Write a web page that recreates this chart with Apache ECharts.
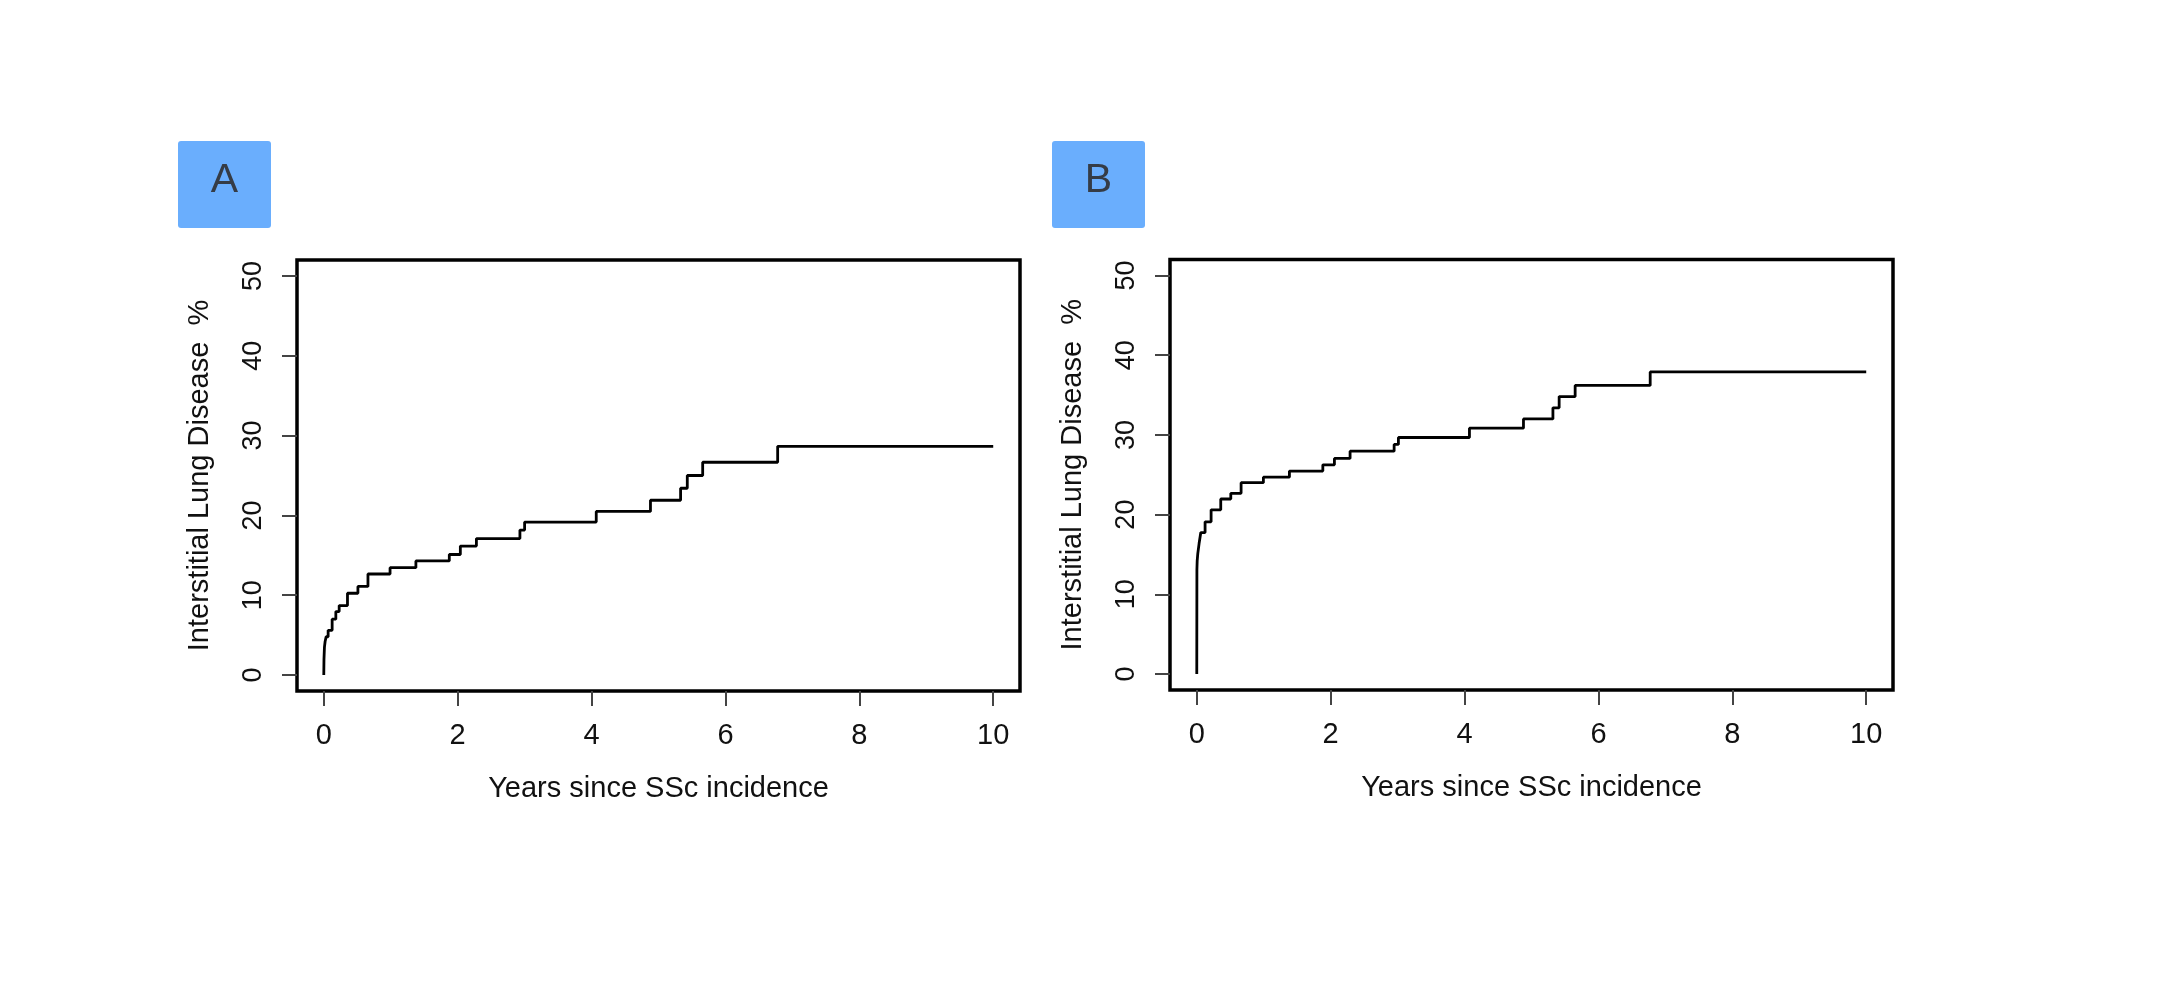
<!DOCTYPE html>
<html>
<head>
<meta charset="utf-8">
<script src="https://cdn.jsdelivr.net/npm/echarts@6/dist/echarts.min.js"></script>
<style>
html,body{margin:0;padding:0;background:#fff;}
#main{width:2160px;height:1000px;}
</style>
</head>
<body>
<div id="main"></div>
<script>
// ---- data ----
const panelLabels = ['A', 'B'];
const xTickValues = [0, 2, 4, 6, 8, 10];
const yTickValues = [0, 10, 20, 30, 40, 50];
const xTitle = 'Years since SSc incidence';
const yTitle = 'Interstitial Lung Disease  %';

const timesA = [0, 0.003, 0.01, 0.02, 0.035, 0.065, 0.125, 0.18, 0.23, 0.354, 0.51, 0.66, 0.99, 1.376, 1.875, 2.04, 2.28, 2.93, 3.0, 4.07, 4.88, 5.33, 5.43, 5.66, 6.78, 10.0];
const valuesA = [0, 2.0, 3.5, 4.2, 4.8, 5.6, 7.0, 7.95, 8.7, 10.25, 11.1, 12.66, 13.45, 14.3, 15.1, 16.16, 17.1, 18.16, 19.16, 20.5, 21.9, 23.4, 25.0, 26.66, 28.66, 28.66];

const timesB = [0, 0.002, 0.006, 0.015, 0.035, 0.06, 0.124, 0.214, 0.358, 0.508, 0.662, 0.995, 1.384, 1.883, 2.056, 2.29, 2.948, 3.012, 4.073, 4.88, 5.32, 5.413, 5.652, 6.773, 10.0];
const valuesB = [0, 13.1, 14.2, 15.1, 16.4, 17.75, 19.1, 20.6, 21.96, 22.67, 24.0, 24.7, 25.46, 26.25, 27.05, 27.96, 28.8, 29.67, 30.84, 32.0, 33.4, 34.8, 36.2, 37.9, 37.9];

// ---- chart ----
const FONT = "'Liberation Sans', Arial, Helvetica, sans-serif";
const chart = echarts.init(document.getElementById('main'), null, {renderer: 'canvas'});

const grids = [
  {left: 297, top: 260, width: 723, height: 431},
  {left: 1170, top: 259.5, width: 723, height: 430.5}
];

function pairs(t, v) { return t.map((x, i) => [x, v[i]]); }

function xAxisFor(i) {
  return {
    type: 'value', gridIndex: i, min: -0.4, max: 10.4,
    axisLine: {show: false, onZero: false},
    splitLine: {show: false},
    axisTick: {show: true, customValues: xTickValues, length: 15, inside: false,
      lineStyle: {color: '#444', width: 2}},
    axisLabel: {show: true, customValues: xTickValues, margin: 30,
      fontFamily: FONT, fontSize: 29, color: '#111'},
    name: xTitle, nameLocation: 'middle', nameGap: 83,
    nameTextStyle: {fontFamily: FONT, fontSize: 29, color: '#111'}
  };
}
function yAxisFor(i) {
  return {
    type: 'value', gridIndex: i, min: -2, max: 52,
    axisLine: {show: false, onZero: false},
    splitLine: {show: false},
    axisTick: {show: true, customValues: yTickValues, length: 15, inside: false,
      lineStyle: {color: '#444', width: 2}},
    axisLabel: {show: true, customValues: yTickValues, rotate: 90, margin: 30,
      fontFamily: FONT, fontSize: 27, color: '#111'},
    name: yTitle, nameLocation: 'middle', nameGap: 83, nameRotate: 90,
    nameTextStyle: {fontFamily: FONT, fontSize: 29, color: '#111'}
  };
}

function labelBox(x, label) {
  return {
    type: 'group', left: x, top: 141,
    children: [
      {type: 'rect', shape: {x: 0, y: 0, width: 93, height: 87, r: 3},
        style: {fill: '#6aaefd'}},
      {type: 'text', x: 46.5, y: 40,
        style: {text: label, fill: '#353c46', font: "41px " + FONT,
          align: 'center', verticalAlign: 'middle'}}
    ]
  };
}

chart.setOption({
  backgroundColor: '#ffffff',
  animation: false,
  grid: grids.map(g => Object.assign({show: true, borderColor: '#000', borderWidth: 3.5,
    backgroundColor: 'transparent'}, g)),
  xAxis: [xAxisFor(0), xAxisFor(1)],
  yAxis: [yAxisFor(0), yAxisFor(1)],
  series: [
    {type: 'line', xAxisIndex: 0, yAxisIndex: 0, step: 'end', showSymbol: false,
      data: pairs(timesA, valuesA), lineStyle: {color: '#000', width: 2.8}},
    {type: 'line', xAxisIndex: 1, yAxisIndex: 1, step: 'end', showSymbol: false,
      data: pairs(timesB, valuesB), lineStyle: {color: '#000', width: 2.8}}
  ],
  graphic: [labelBox(178, panelLabels[0]), labelBox(1052, panelLabels[1])]
});
</script>
</body>
</html>
